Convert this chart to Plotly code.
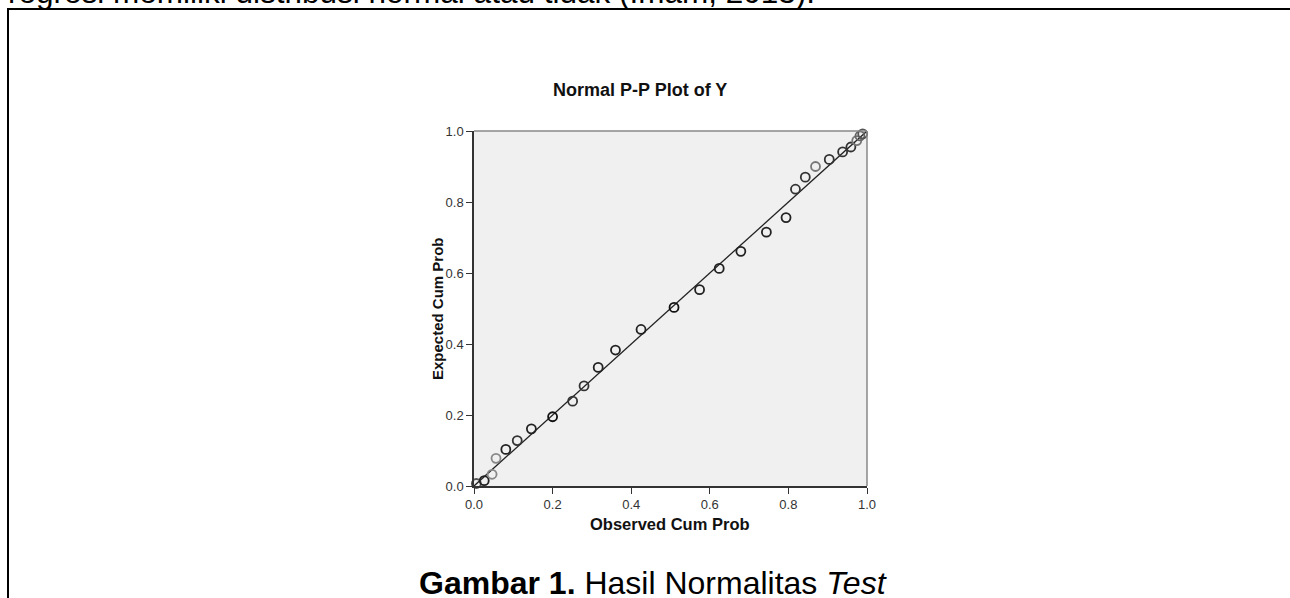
import plotly.graph_objects as go

# Data (Observed vs Expected cumulative probability)
observed = [0.006, 0.026, 0.046, 0.056, 0.081, 0.110, 0.146, 0.200, 0.251, 0.280,
            0.316, 0.360, 0.425, 0.509, 0.574, 0.624, 0.679, 0.744, 0.794, 0.818,
            0.843, 0.869, 0.904, 0.938, 0.959, 0.974, 0.982, 0.989]
expected = [0.007, 0.015, 0.033, 0.078, 0.103, 0.128, 0.161, 0.195, 0.239, 0.282,
            0.334, 0.383, 0.441, 0.503, 0.553, 0.613, 0.661, 0.715, 0.756, 0.836,
            0.870, 0.900, 0.920, 0.941, 0.955, 0.973, 0.986, 0.992]
ref_line = [0.0, 1.0]
tick_vals = [0.0, 0.2, 0.4, 0.6, 0.8, 1.0]
tick_text = ["0.0", "0.2", "0.4", "0.6", "0.8", "1.0"]

# marker shades (some circles appear lighter in the reference)
marker_colors = ["#555", "#222", "#888", "#888", "#222", "#333", "#222", "#111", "#333", "#333",
                 "#222", "#222", "#222", "#111", "#222", "#222", "#222", "#222", "#222", "#333",
                 "#333", "#777", "#333", "#333", "#333", "#777", "#666", "#555"]

W, H = 1290, 598
L, R, T, B = 474, 867, 131, 486  # plot area in pixels


def px(x):
    return (x - L) / (R - L)


def py(y):
    return (B - y) / (B - T)


fig = go.Figure()
fig.add_trace(go.Scatter(x=ref_line, y=ref_line, mode="lines",
                         line=dict(color="#222", width=1.3), hoverinfo="skip",
                         showlegend=False, cliponaxis=False))
fig.add_trace(go.Scatter(x=observed, y=expected, mode="markers",
                         marker=dict(symbol="circle-open", size=9,
                                     line=dict(width=1.8, color=marker_colors),
                                     color=marker_colors),
                         showlegend=False, cliponaxis=False))

axis_common = dict(range=[0, 1], tickvals=tick_vals, ticktext=tick_text,
                   showgrid=False, zeroline=False, showline=True,
                   linecolor="#333", linewidth=1.5, ticks="outside", ticklen=6,
                   tickcolor="#333", tickwidth=1.2,
                   tickfont=dict(family="Liberation Sans, Arial", size=13, color="#333"))

fig.update_layout(
    width=W, height=H,
    margin=dict(l=L, r=W - R, t=T, b=H - B),
    paper_bgcolor="white", plot_bgcolor="#f0f0f0",
    xaxis=dict(**axis_common),
    yaxis=dict(**axis_common),
    font=dict(family="Liberation Sans, Arial", color="black"),
)

shapes = [
    # top and right plot frame (gray)
    dict(type="line", xref="paper", yref="paper", x0=0, x1=1, y0=1, y1=1,
         line=dict(color="#888", width=1.5)),
    dict(type="line", xref="paper", yref="paper", x0=1, x1=1, y0=0, y1=1,
         line=dict(color="#888", width=1.5)),
    # outer document box
    dict(type="line", xref="paper", yref="paper", x0=px(7), x1=px(1295), y0=py(9), y1=py(9),
         line=dict(color="black", width=2)),
    dict(type="line", xref="paper", yref="paper", x0=px(8), x1=px(8), y0=py(9), y1=py(605),
         line=dict(color="black", width=2)),
]
fig.update_layout(shapes=shapes)

annotations = [
    dict(text="<b>Normal P-P Plot of Y</b>", x=px(640), y=py(90), xref="paper", yref="paper",
         showarrow=False, xanchor="center", yanchor="middle",
         font=dict(size=18, color="#111")),
    dict(text="<b>Expected Cum Prob</b>", x=px(437), y=py(309), xref="paper", yref="paper",
         showarrow=False, xanchor="center", yanchor="middle", textangle=-90,
         font=dict(size=15, color="#111")),
    dict(text="<b>Observed Cum Prob</b>", x=px(670), y=py(524), xref="paper", yref="paper",
         showarrow=False, xanchor="center", yanchor="middle",
         font=dict(size=16.5, color="#111")),
    dict(text="<b>Gambar 1.</b> Hasil Normalitas <i>Test</i>", x=px(653), y=py(583),
         xref="paper", yref="paper", showarrow=False, xanchor="center", yanchor="middle",
         font=dict(size=32, color="black")),
    dict(text="regresi memiliki distribusi normal atau tidak (Imam, 2013).", x=px(6), y=py(-8.5),
         xref="paper", yref="paper", showarrow=False, xanchor="left", yanchor="middle",
         font=dict(size=31.5, color="black")),
]
fig.update_layout(annotations=annotations)

fig.write_html("out.html", config={"displayModeBar": False},
               post_script="document.body.style.margin='0';document.body.style.overflow='hidden';")
